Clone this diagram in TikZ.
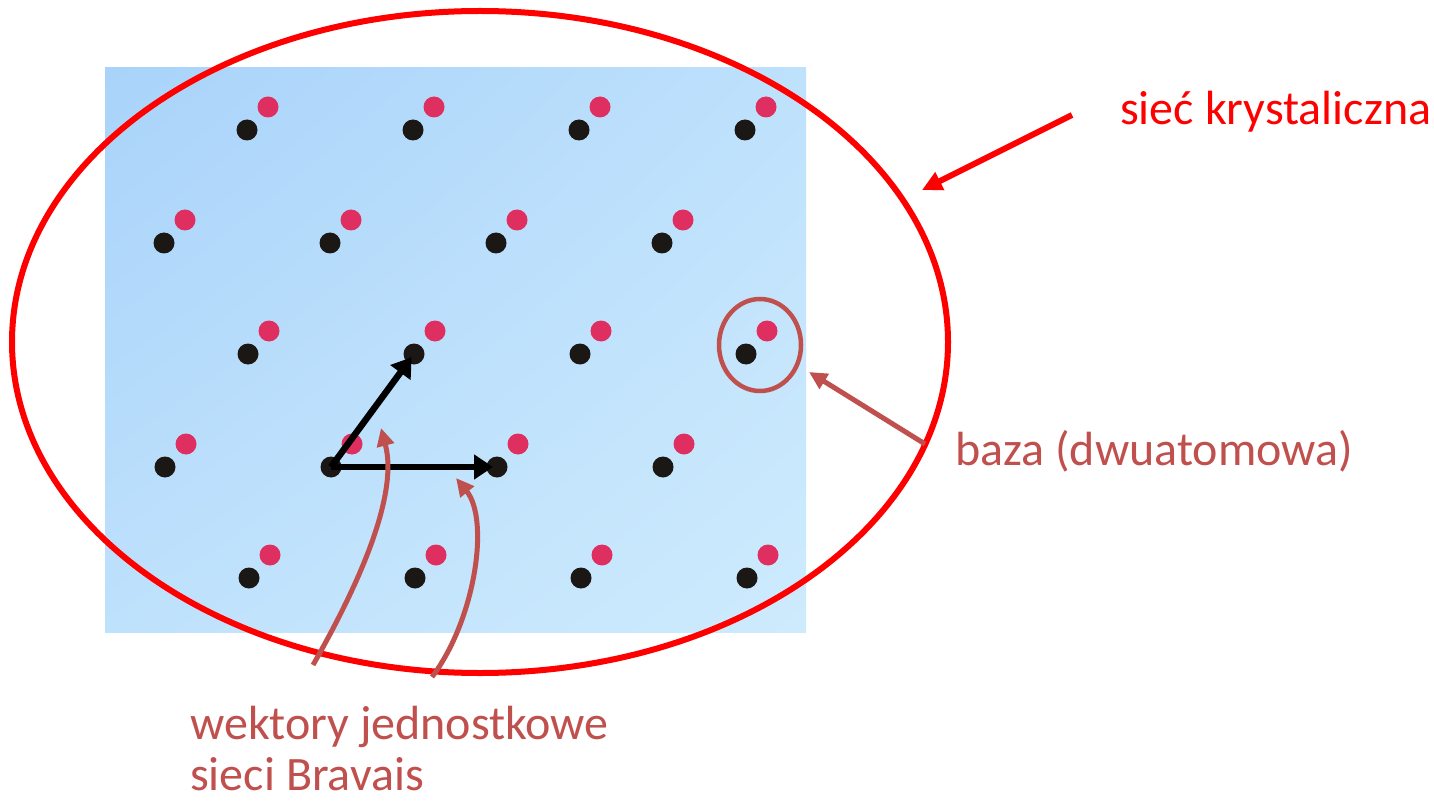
\documentclass[tikz,border=0pt]{standalone}
\usepackage{fontspec}
\setmainfont{Carlito}
\usetikzlibrary{arrows.meta,shapes.geometric,shadings}
\definecolor{bazared}{HTML}{C0504D}
\definecolor{pinkdot}{HTML}{DF2F60}
\definecolor{blackdot}{HTML}{1B1714}
\definecolor{bgA}{HTML}{A9D3FA}
\definecolor{bgB}{HTML}{BEE1FC}
\definecolor{bgC}{HTML}{CEEBFD}
\begin{document}
\begin{tikzpicture}[x=1pt,y=-1pt,
  blackatom/.style={circle,fill=blackdot,minimum size=21pt,inner sep=0pt},
  pinkatom/.style={circle,fill=pinkdot,minimum size=21pt,inner sep=0pt},
  vecarrow/.style={line width=6.5pt,-{Triangle[length=19pt,width=24pt]},shorten >=4pt},
  bazaarrow/.style={draw=bazared,line width=5pt,-{Triangle[length=18pt,width=17pt]}},
  redarrow/.style={draw=red,line width=6pt,-{Triangle[length=20pt,width=19pt]}},
  lbl/.style={font=\fontsize{48}{54}\selectfont,inner sep=0pt}]
\useasboundingbox (0,0) rectangle (1434,802);
\fill[white] (0,0) rectangle (1434,802);
\shade[upper left=bgA, upper right=bgB, lower left=bgB, lower right=bgC] (105,68) rectangle (806,632);
% lattice
\foreach \j/\xs/\by in {-1/249/578,0/165/467,1/248/354,2/164/243,3/247/130}{
  \foreach \i in {0,1,2,3}{
    \pgfmathsetmacro{\bx}{\xs+166*\i}
    \node[pinkatom] (p\i\j) at (\bx+21,\by-23) {};
    \node[blackatom] (b\i\j) at (\bx,\by) {};
  }
}
% Bravais vectors
\draw[vecarrow] (b10.center) -- (b20.center);
\draw[vecarrow] (b10.center) -- (b11.center);
% crystal ellipse
\node[ellipse,draw=red,line width=6pt,minimum width=936pt,minimum height=662pt,inner sep=0pt] (crystal) at (480,342) {};
% basis circle
\node[ellipse,draw=bazared,line width=4.5pt,minimum width=82pt,minimum height=92pt,inner sep=0pt] (basis) at (760,345) {};
% labels
\node[lbl,text=red,anchor=base west] (lsiec) at (1120,125) {sieć krystaliczna};
\node[lbl,text=bazared,anchor=base west] (lbaza) at (955,465) {baza (dwuatomowa)};
\node[lbl,text=bazared,anchor=base west] (lwekt) at (190,739) {wektory jednostkowe};
\node[lbl,text=bazared,anchor=base west] (lbrav) at (190,790) {sieci Bravais};
% connectors
\coordinate (s1) at (1072,115);
\coordinate (e1) at (922,190);
\draw[redarrow] (s1) -- (e1);
\coordinate (s2) at (925,444);
\coordinate (e2) at (809,372);
\draw[bazaarrow] (s2) -- (e2);
\coordinate (s3) at (313,665);
\coordinate (e3) at (381,428);
\draw[bazaarrow] (s3) .. controls (350,600) and (400,500) .. (e3);
\coordinate (s4) at (432,677);
\coordinate (e4) at (456,478);
\draw[bazaarrow] (s4) .. controls (475,620) and (490,520) .. (e4);
\end{tikzpicture}
\end{document}
